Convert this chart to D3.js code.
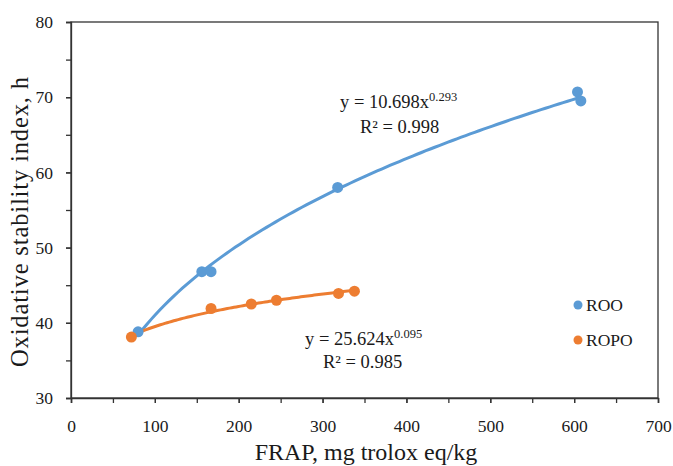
<!DOCTYPE html>
<html>
<head>
<meta charset="utf-8">
<script src="https://cdn.jsdelivr.net/npm/d3@7"></script>
<style>
  body { margin: 0; background: #fff; }
  text { font-family: "Liberation Serif", "DejaVu Serif", serif; fill: #1a1a1a; }
</style>
</head>
<body>
<svg id="chart" width="673" height="466"></svg>
<script>
// data
const rooFrap = [80, 156, 167, 318, 604, 608];
const rooOsi = [38.8, 46.8, 46.8, 58.0, 70.7, 69.5];
const ropoFrap = [72, 167, 215, 245, 319, 338];
const ropoOsi = [38.1, 41.9, 42.5, 43.0, 43.9, 44.2];
const seriesNames = ['ROO', 'ROPO'];
const seriesColors = ['#5B9BD5', '#ED7D31'];
const fitLabels = [
  { eq: 'y = 10.698x', exp: '0.293', r2: 'R² = 0.998' },
  { eq: 'y = 25.624x', exp: '0.095', r2: 'R² = 0.985' }
];
const xTicks = [0, 100, 200, 300, 400, 500, 600, 700];
const yTicks = [30, 40, 50, 60, 70, 80];

const svg = d3.select('#chart');
const margin = { top: 22, right: 15, bottom: 68, left: 71 };
const width = +svg.attr('width');
const height = +svg.attr('height');
const innerWidth = width - margin.left - margin.right;
const innerHeight = height - margin.top - margin.bottom;
const serif = '"Liberation Serif", "DejaVu Serif", serif';

const xScale = d3.scaleLinear().domain([0, 700]).range([0, innerWidth]);
const yScale = d3.scaleLinear().domain([30, 80]).range([innerHeight, 0]);

const g = svg.append('g')
    .attr('transform', 'translate(' + margin.left + ',' + margin.top + ')');

// frame (top and right)
g.append('rect')
    .attr('width', innerWidth)
    .attr('height', innerHeight)
    .attr('fill', 'none')
    .attr('stroke', '#333')
    .attr('stroke-width', 1.3);

// minor ticks (no labels)
g.append('g')
    .attr('transform', 'translate(0,' + innerHeight + ')')
    .call(d3.axisBottom(xScale).tickValues(d3.range(0, 701, 50)).tickSize(5).tickFormat(''))
    .call(a => a.select('.domain').remove())
    .call(a => a.selectAll('text').remove())
    .selectAll('line').attr('stroke', '#333').attr('stroke-width', 1.3);
g.append('g')
    .call(d3.axisLeft(yScale).tickValues(d3.range(30, 81, 5)).tickSize(5).tickFormat(''))
    .call(a => a.select('.domain').remove())
    .call(a => a.selectAll('text').remove())
    .selectAll('line').attr('stroke', '#333').attr('stroke-width', 1.3);

// X axis
const xAxis = g.append('g')
    .attr('transform', 'translate(0,' + innerHeight + ')')
    .call(d3.axisBottom(xScale).tickValues(xTicks).tickSize(5).tickPadding(17))
    .attr('font-size', 17.5)
    .attr('font-family', serif);
xAxis.select('.domain').attr('stroke', '#333').attr('stroke-width', 1.3);
xAxis.selectAll('line').attr('stroke', '#333').attr('stroke-width', 1.3);
xAxis.selectAll('text').attr('fill', '#1a1a1a');

// Y axis
const yAxis = g.append('g')
    .call(d3.axisLeft(yScale).tickValues(yTicks).tickSize(5).tickPadding(13))
    .attr('font-size', 17.5)
    .attr('font-family', serif);
yAxis.select('.domain').attr('stroke', '#333').attr('stroke-width', 1.3);
yAxis.selectAll('line').attr('stroke', '#333').attr('stroke-width', 1.3);
yAxis.selectAll('text').attr('fill', '#1a1a1a');

// axis titles
svg.append('text')
    .attr('x', 366)
    .attr('y', 460)
    .attr('text-anchor', 'middle')
    .attr('font-size', 24)
    .text('FRAP, mg trolox eq/kg');
svg.append('text')
    .attr('transform', 'translate(28,222) rotate(-90)')
    .attr('text-anchor', 'middle')
    .attr('textLength', 290)
    .attr('font-size', 24.5)
    .text('Oxidative stability index, h');

// power trend line fitted to the points (least squares in log space)
const powerFit = (xs, ys) => {
  const lx = xs.map(Math.log), ly = ys.map(Math.log);
  const mx = d3.mean(lx), my = d3.mean(ly);
  const b = d3.sum(lx, (v, i) => (v - mx) * (ly[i] - my)) / d3.sum(lx, v => (v - mx) * (v - mx));
  const a = Math.exp(my - b * mx);
  return x => a * Math.pow(x, b);
};

const series = [
  { xs: rooFrap, ys: rooOsi },
  { xs: ropoFrap, ys: ropoOsi }
];

const line = d3.line().x(d => xScale(d[0])).y(d => yScale(d[1]));

series.forEach((s, i) => {
  const f = powerFit(s.xs, s.ys);
  const [lo, hi] = d3.extent(s.xs);
  const pts = d3.range(0, 101).map(k => {
    const x = lo + (hi - lo) * k / 100;
    return [x, f(x)];
  });
  g.append('path')
      .datum(pts)
      .attr('fill', 'none')
      .attr('stroke', seriesColors[i])
      .attr('stroke-width', 3)
      .attr('d', line);
});

series.forEach((s, i) => {
  g.selectAll('.dot' + i)
      .data(s.xs.map((x, j) => [x, s.ys[j]]))
      .enter()
      .append('circle')
      .attr('class', 'dot' + i)
      .attr('cx', d => xScale(d[0]))
      .attr('cy', d => yScale(d[1]))
      .attr('r', 5.5)
      .attr('fill', seriesColors[i]);
});

// equations
const eqPos = [[340, 108, 360, 133], [305, 345, 323, 368]];
fitLabels.forEach((f, i) => {
  const t = svg.append('text')
      .attr('x', eqPos[i][0])
      .attr('y', eqPos[i][1])
      .attr('font-size', 18.5);
  t.append('tspan').text(f.eq);
  t.append('tspan').attr('dy', -7).attr('font-size', 12.5).text(f.exp);
  svg.append('text')
      .attr('x', eqPos[i][2])
      .attr('y', eqPos[i][3])
      .attr('font-size', 18.5)
      .text(f.r2);
});

// legend
seriesNames.forEach((name, i) => {
  const ly = 305 + i * 35;
  svg.append('circle')
      .attr('cx', 578)
      .attr('cy', ly)
      .attr('r', 4.5)
      .attr('fill', seriesColors[i]);
  svg.append('text')
      .attr('x', 586)
      .attr('y', ly + 6)
      .attr('font-size', 17.5)
      .text(name);
});
</script>
</body>
</html>
